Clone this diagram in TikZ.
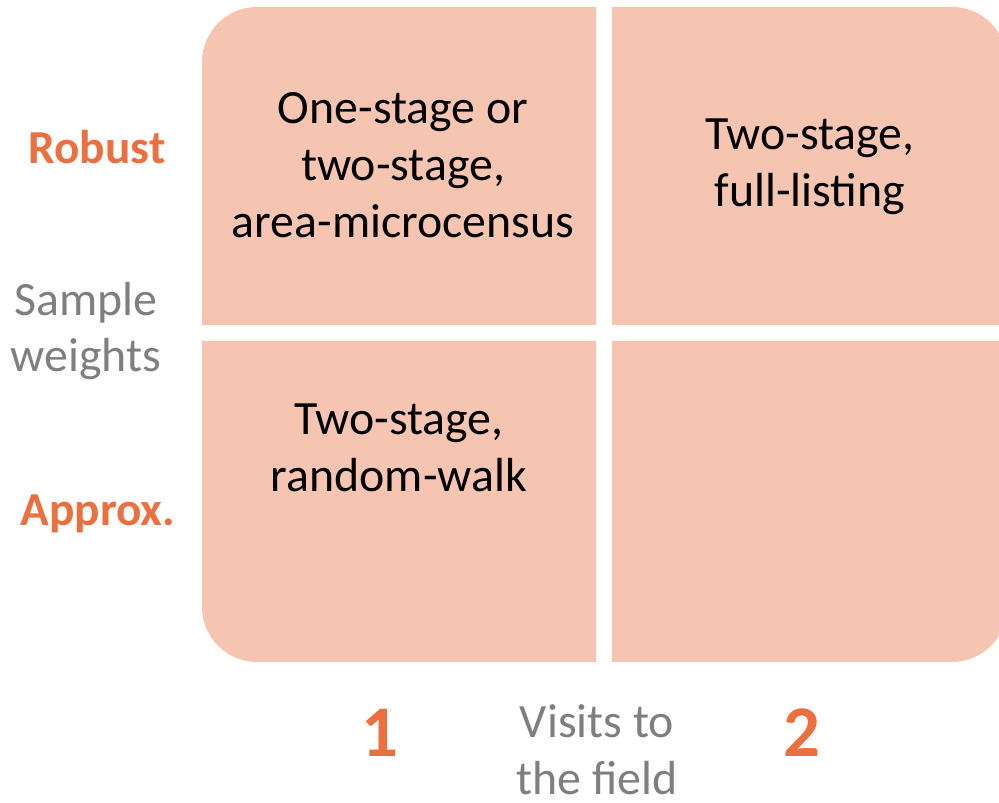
\documentclass[tikz,border=0pt]{standalone}
\usepackage{fontspec}
\setmainfont{Carlito}
\definecolor{quadfill}{HTML}{F5C5B2}
\definecolor{accent}{HTML}{EB7040}
\definecolor{greytext}{HTML}{7F7F7F}
\begin{document}
\begin{tikzpicture}[x=1bp,y=1bp,
  quad/.style={fill=quadfill},
  celltext/.style={align=center,font=\fontsize{48}{57}\selectfont,text=black,inner sep=0pt},
  axistext/.style={align=center,font=\fontsize{48}{57}\selectfont,text=greytext,inner sep=0pt},
  levellabel/.style={font=\fontsize{47.5}{57}\selectfont\bfseries,text=accent,inner sep=0pt},
  numlabel/.style={font=\fontsize{73}{80}\selectfont\bfseries,text=accent,inner sep=0pt}]
\useasboundingbox (0,0) rectangle (999,803);
\begin{scope}
\clip (0,0) rectangle (999,803);
\fill[quad] (596,478) -- (202,478) -- (202,741) arc[start angle=180,end angle=90,radius=55] -- (596,796) -- cycle;
\fill[quad] (612,478) -- (612,796) -- (952,796) arc[start angle=90,end angle=0,radius=55] -- (1007,478) -- cycle;
\fill[quad] (596,462) -- (202,462) -- (202,196) arc[start angle=180,end angle=270,radius=55] -- (596,141) -- cycle;
\fill[quad] (612,462) -- (1007,462) -- (1007,196) arc[start angle=0,end angle=-90,radius=55] -- (612,141) -- cycle;
\end{scope}
\node[celltext] (tl) at (403,638) {One-stage or\\two-stage,\\area-microcensus};
\node[celltext] (tr) at (810,636) {Two-stage,\\full-listing};
\node[celltext] (bl) at (399,355) {Two-stage,\\random-walk};
\node[levellabel] (robust) at (97,656) {Robust};
\node[axistext] (weights) at (86,472) {Sample\\weights};
\node[levellabel] (approx) at (98,289) {Approx.};
\node[numlabel] (one) at (380,70) {1};
\node[axistext] (visits) at (597,53) {Visits to\\the field};
\node[numlabel] (two) at (802,70) {2};
\end{tikzpicture}
\end{document}
